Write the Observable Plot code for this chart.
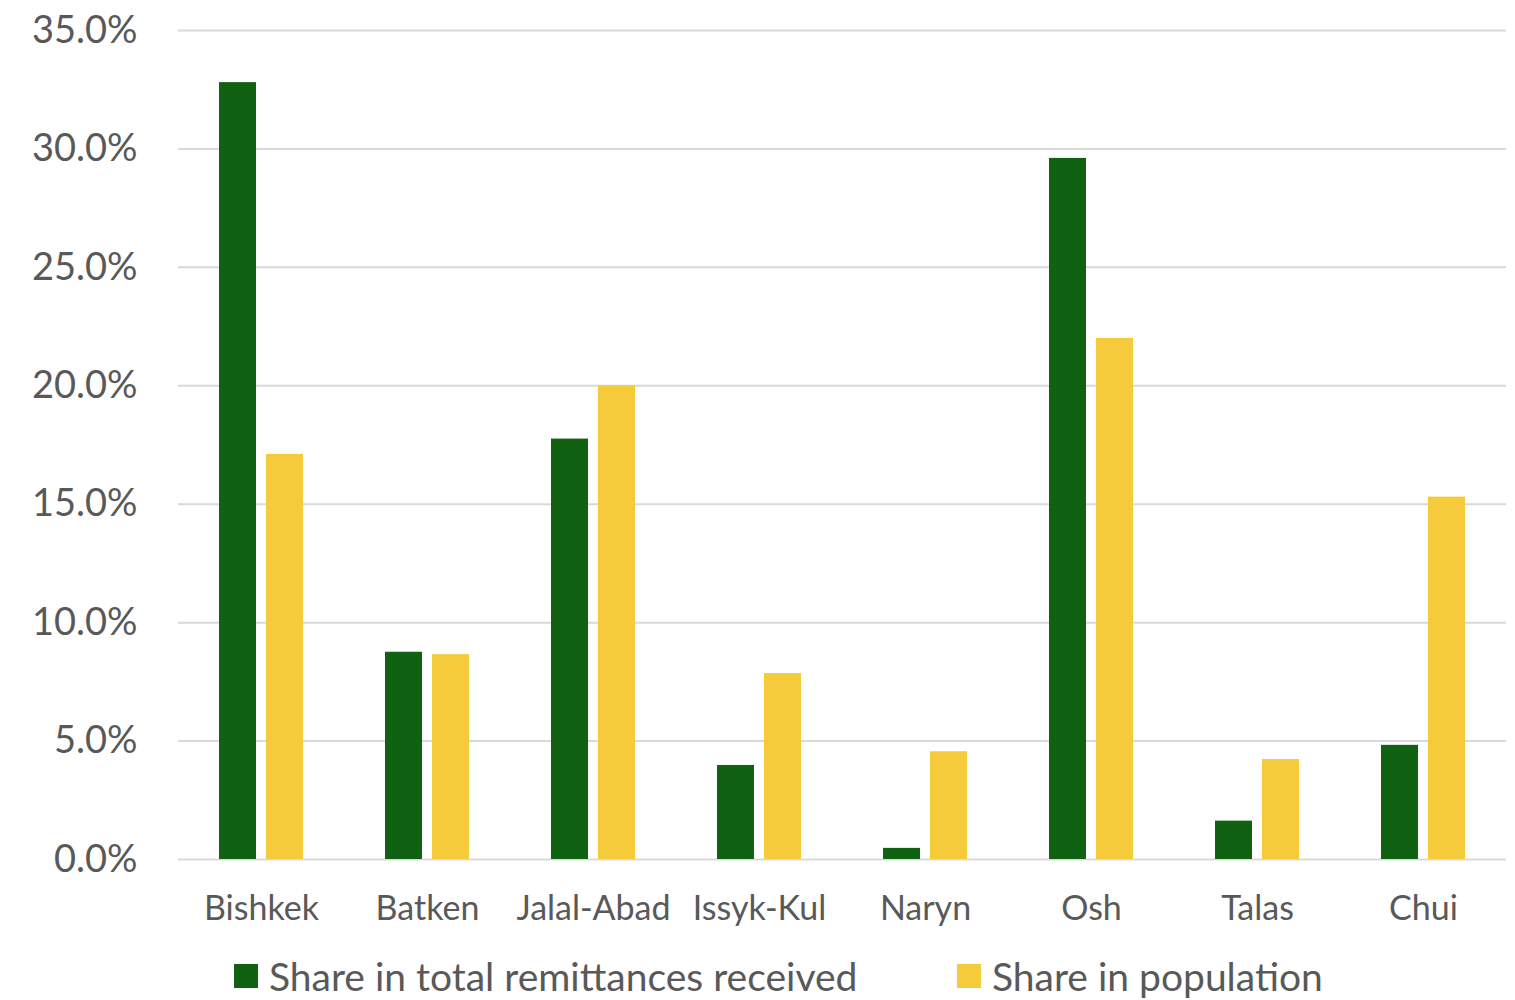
<!DOCTYPE html>
<html>
<head>
<meta charset="utf-8">
<script src="https://cdn.jsdelivr.net/npm/d3@7"></script>
<script src="https://cdn.jsdelivr.net/npm/@observablehq/plot@0.6"></script>
<style>
  html, body { margin: 0; padding: 0; background: #fff; }
  #wrap { position: relative; width: 1515px; height: 1000px; font-family: Lato, "Open Sans", sans-serif; }
  #legend { position: absolute; left: 0; top: 956px; width: 1515px; height: 40px; }
  .item { position: absolute; top: 0; display: flex; align-items: center; font-size: 39px; line-height: 40px; color: #595959; white-space: nowrap; }
  .sw { width: 24px; height: 24px; margin-right: 11px; display: inline-block; }
</style>
</head>
<body>
<div id="wrap">
  <div id="chart"></div>
  <div id="legend"></div>
</div>
<script>
const regions = ["Bishkek", "Batken", "Jalal-Abad", "Issyk-Kul", "Naryn", "Osh", "Talas", "Chui"];
const remittances = [32.8, 8.75, 17.75, 3.97, 0.47, 29.6, 1.62, 4.82];
const population = [17.1, 8.65, 20.0, 7.85, 4.55, 22.0, 4.22, 15.3];
const seriesNames = ["Share in total remittances received", "Share in population"];
const seriesColors = ["#116112", "#F5CB3C"];
const yTicks = [0, 5, 10, 15, 20, 25, 30, 35];

const rows = [];
regions.forEach((r, i) => {
  rows.push({region: r, series: seriesNames[0], value: remittances[i]});
  rows.push({region: r, series: seriesNames[1], value: population[i]});
});

const chart = Plot.plot({
  width: 1515,
  height: 940,
  marginTop: 30,
  marginBottom: 81,
  marginLeft: 178,
  marginRight: 9,
  style: {fontFamily: "Lato, 'Open Sans', sans-serif", fontSize: "36px", color: "#595959", background: "#fff"},
  fx: {domain: regions, padding: 0, label: null},
  x: {domain: seriesNames, axis: null, paddingInner: 0.213, paddingOuter: 0.87},
  y: {domain: [0, 35], label: null},
  color: {domain: seriesNames, range: seriesColors},
  marks: [
    Plot.gridY(yTicks, {stroke: "#d9d9d9", strokeOpacity: 1, strokeWidth: 2}),
    Plot.axisY(yTicks, {tickFormat: d => d.toFixed(1) + "%", tickSize: 0, tickPadding: 41, fontSize: 38, fill: "#595959", label: null}),
    Plot.axisFx({anchor: "bottom", tickSize: 0, tickPadding: 36, fontSize: 34, fill: "#595959", label: null}),
    Plot.barY(rows, {fx: "region", x: "series", y: "value", fill: "series"})
  ]
});
document.getElementById("chart").appendChild(chart);

const legend = document.getElementById("legend");
const lefts = [234, 957];
seriesNames.forEach((name, i) => {
  const it = document.createElement("div");
  it.className = "item";
  it.style.left = lefts[i] + "px";
  const sw = document.createElement("span");
  sw.className = "sw";
  sw.style.background = seriesColors[i];
  it.appendChild(sw);
  it.appendChild(document.createTextNode(name));
  legend.appendChild(it);
});
</script>
</body>
</html>
